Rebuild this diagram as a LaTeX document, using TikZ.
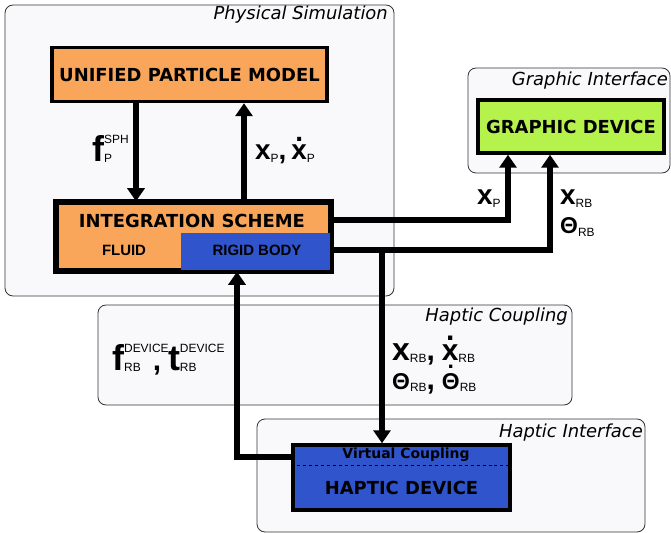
\documentclass[tikz,border=0pt]{standalone}
\usepackage{fontspec}
\setmainfont{DejaVu Sans}
\newfontfamily\labfont{Liberation Sans}
\usetikzlibrary{arrows.meta,calc}
\definecolor{orangebox}{RGB}{249,165,90}
\definecolor{bluebox}{RGB}{48,84,204}
\definecolor{greenbox}{RGB}{182,242,76}
\definecolor{groupfill}{RGB}{249,249,252}
\newcommand\bigtxt[2]{{\labfont\bfseries\fontsize{#1}{#1}\selectfont #2}}
\newcommand\smalltxt[1]{{\labfont\fontsize{12}{12}\selectfont #1}}
\newcommand\lowsub[1]{\raisebox{-2.5bp}{\smalltxt{#1}}}
\newcommand\ssup[2]{\setbox0=\hbox{\smalltxt{#1}}\setbox2=\hbox{\smalltxt{#2}}%
  \ifdim\wd0>\wd2 \dimen0=\wd0 \else \dimen0=\wd2 \fi
  \rlap{\raisebox{18bp}{\copy0}}\rlap{\raisebox{-1bp}{\copy2}}\kern\dimen0 }
\newcommand\supover[2]{\rlap{\raisebox{18bp}{\smalltxt{#1}}}\raisebox{-1bp}{\smalltxt{#2}}}
\newcommand\dotted[2]{\leavevmode\ooalign{#2\cr\hidewidth\raisebox{#1}{.}\hidewidth\cr}}
\begin{document}
\begin{tikzpicture}[x=1bp,y=-1bp,
  group/.style={draw=black!80, line width=0.8bp, rounded corners=8bp, fill=groupfill},
  grouptitle/.style={font=\fontsize{18}{18}\selectfont\itshape, anchor=base east, inner sep=0pt},
  device/.style={draw=black, line width=3.5bp, inner sep=0pt, font=\fontsize{18}{18}\selectfont\bfseries},
  flow/.style={line width=5.5bp, -{Triangle[width=17bp,length=13bp]}},
  lbl/.style={anchor=base west, inner sep=0pt}
]
\useasboundingbox (0,0) rectangle (671,533);

% group boxes
\draw[group] (5,5) rectangle (394,296);
\node[grouptitle] (tps) at (388,20) {Physical Simulation};
\draw[group] (468,68) rectangle (670,173);
\node[grouptitle] (tgi) at (668,86) {Graphic Interface};
\draw[group] (98,305) rectangle (572,405);
\node[grouptitle] (thc) at (568,321) {Haptic Coupling};
\draw[group] (257,419) rectangle (645,532);
\node[grouptitle] (thi) at (643,437) {Haptic Interface};

% devices
\node[device, fill=orangebox, minimum width=275bp, minimum height=54bp] (UPM) at (189.5,74.5) {UNIFIED PARTICLE MODEL};
\node[device, fill=greenbox, minimum width=186bp, minimum height=53bp] (GD) at (571,126.5) {GRAPHIC DEVICE};
\node[device, fill=orangebox, minimum width=273bp, minimum height=67bp] (IS) at (193.5,236.5) {};
\fill[bluebox] (181,233) rectangle (IS.south east);
\draw[line width=3.5bp] (IS.north west) rectangle (IS.south east);
\node[font=\fontsize{18}{18}\selectfont\bfseries] (ist) at (192,221) {INTEGRATION SCHEME};
\node[font=\labfont\bfseries\fontsize{15}{15}\selectfont] (fl) at (124,250) {FLUID};
\node[font=\labfont\bfseries\fontsize{15}{15}\selectfont] (rb) at (257,250) {RIGID BODY};

\node[device, fill=bluebox, minimum width=217bp, minimum height=65bp] (HD) at (401.5,477.5) {};
\draw[dashed, line width=1bp] (HD.west |- 0,465) -- (HD.east |- 0,465);
\node[font=\fontsize{14}{14}\selectfont\bfseries] (vc) at (406,455) {Virtual Coupling};
\node[font=\fontsize{18}{18}\selectfont\bfseries] (hdt) at (401.5,488) {HAPTIC DEVICE};

% connectors
\coordinate (xa) at (136,0);
\coordinate (xb) at (244,0);
\coordinate (gx1) at (508,0);
\coordinate (gx2) at (550,0);
\coordinate (br) at (382,0);
\coordinate (fb) at (237,0);
\coordinate (cA) at ($(IS.east |- 0,220)$);
\coordinate (cB) at ($(IS.east |- 0,250)$);
\draw[flow] (xa |- UPM.south) -- (xa |- IS.north);
\draw[flow] (xb |- IS.north) -- (xb |- UPM.south);
\draw[flow] (cA) -| (gx1 |- GD.south);
\draw[flow] (cB) -| (gx2 |- GD.south);
\draw[flow] (br |- cB) -- (br |- HD.north);
\draw[flow] (HD.west |- 0,457) -| (fb |- IS.south);

% labels
\node[lbl] (lfsph) at (92,162) {\bigtxt{36}{f}\ssup{SPH}{P}};
\node[lbl] (lxp) at (255,160) {\bigtxt{28}{x}\lowsub{P}\bigtxt{28}{,\kern5bp\dotted{18bp}{x}}\lowsub{P}};
\node[lbl] (lgxp) at (477,205) {\bigtxt{28}{x}\lowsub{P}};
\node[lbl] (lgxrb) at (560,205) {\bigtxt{28}{x}\lowsub{RB}};
\node[lbl] (lgth) at (560,234) {\bigtxt{23}{Θ}\lowsub{RB}};
\node[lbl] (lft) at (112,370) {\bigtxt{36}{f}\supover{DEVICE}{RB}\kern12bp\bigtxt{30}{,}\kern7bp\bigtxt{36}{t}\supover{DEVICE}{RB}};
\node[lbl] (lhx) at (392,360) {\bigtxt{32}{x}\lowsub{RB}\bigtxt{30}{,\kern7bp\dotted{20bp}{x}}\lowsub{RB}};
\node[lbl] (lhth) at (392,389) {\bigtxt{23}{Θ}\lowsub{RB}\bigtxt{30}{,\kern7bp}\bigtxt{23}{\dotted{21bp}{Θ}}\lowsub{RB}};
\end{tikzpicture}
\end{document}
